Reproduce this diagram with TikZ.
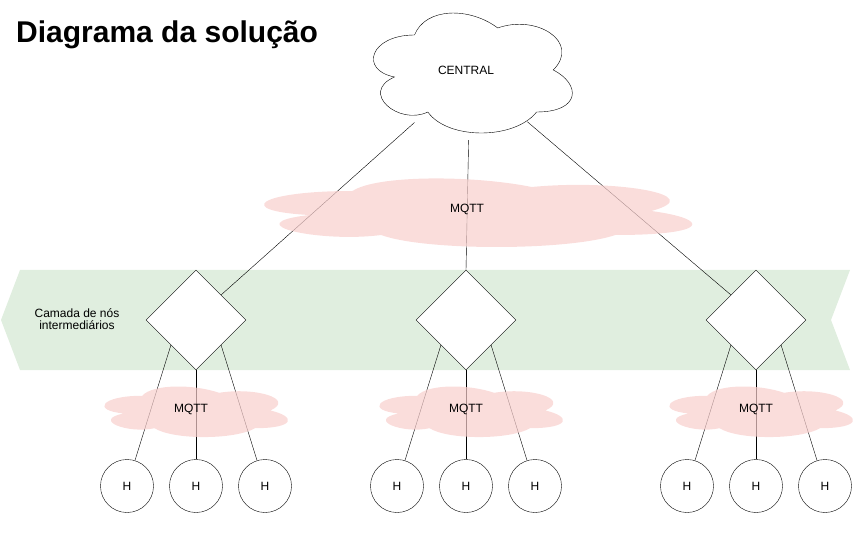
\documentclass[tikz,border=0pt]{standalone}
\usepackage{fontspec}
\setmainfont{Liberation Sans}
\usetikzlibrary{shapes.geometric}
\definecolor{bandgreen}{HTML}{D5E8D4}
\definecolor{mqttpink}{HTML}{F8CECC}
\tikzset{
	hub/.style={draw,diamond,fill=white,inner sep=0,minimum width=100pt,minimum height=100pt},
	host/.style={draw,circle,fill=white,inner sep=0,minimum size=53pt},
	mqttfill/.style={fill=mqttpink,fill opacity=0.7},
	cloudshape/.pic={
		\path[pic actions] (0.25,0.25) .. controls (0.05,0.25) and (0,0.5) .. (0.16,0.55)
			.. controls (0,0.66) and (0.18,0.9) .. (0.31,0.8)
			.. controls (0.4,1) and (0.7,1) .. (0.8,0.8)
			.. controls (1,0.8) and (1,0.6) .. (0.875,0.5)
			.. controls (1,0.3) and (0.8,0.1) .. (0.625,0.2)
			.. controls (0.5,0.05) and (0.3,0.05) .. (0.25,0.25) -- cycle;
	}
}

\begin{document}
\begin{tikzpicture}[x=1pt,y=-1pt,font=\fontsize{12}{14}\selectfont]
	\useasboundingbox (0,0) rectangle (862,537);
	% band of intermediate nodes
	\fill[bandgreen,fill opacity=0.75] (20,270) -- (850,270) -- (831,320) -- (850,370) -- (20,370) -- (1,320) -- cycle;
	\node[align=center,inner sep=0,font=\fontsize{12}{12}\selectfont] (layer) at (77,319) {Camada de nós\\intermediários};
	\node[anchor=base west,inner sep=0,font=\fontsize{30}{36}\selectfont\bfseries] (title) at (16,43) {Diagrama da solução};
	% central cloud
	\pic[draw,fill=white,xscale=222,yscale=140] at (359,0) {cloudshape};
	\node[ellipse,inner sep=0,minimum width=195pt,minimum height=120pt] (central) at (470,73) {};
	\node[inner sep=0] (centrallabel) at (466,70) {CENTRAL};
	\foreach \g/\cx in {1/196,2/466,3/756} {
		\node[hub] (n\g) at (\cx,320) {};
		\node[host] (h\g1) at (\cx-69,486) {H};
		\node[host] (h\g2) at (\cx,486) {H};
		\node[host] (h\g3) at (\cx+69,486) {H};
		\draw (n\g.south west) -- (h\g1);
		\draw (n\g.south) -- (h\g2);
		\draw (n\g.south east) -- (h\g3);
	}
	\draw (central) -- (n1.north east);
	\draw[shorten <=7pt] (central) -- (n2.north);
	\draw (central) -- (n3.north west);
	% MQTT clouds on top of the links
	\pic[mqttfill,xscale=478,yscale=80] at (233,171) {cloudshape};
	\node[inner sep=0] (mqtt) at (467,209) {MQTT};
	\foreach \g/\cx in {1/193,2/468,3/758} {
		\pic[mqttfill,xscale=205,yscale=59] at (\cx-102,381) {cloudshape};
		\node[inner sep=0] (mqtt\g) at (\cx-2,409) {MQTT};
	}
\end{tikzpicture}
\end{document}
